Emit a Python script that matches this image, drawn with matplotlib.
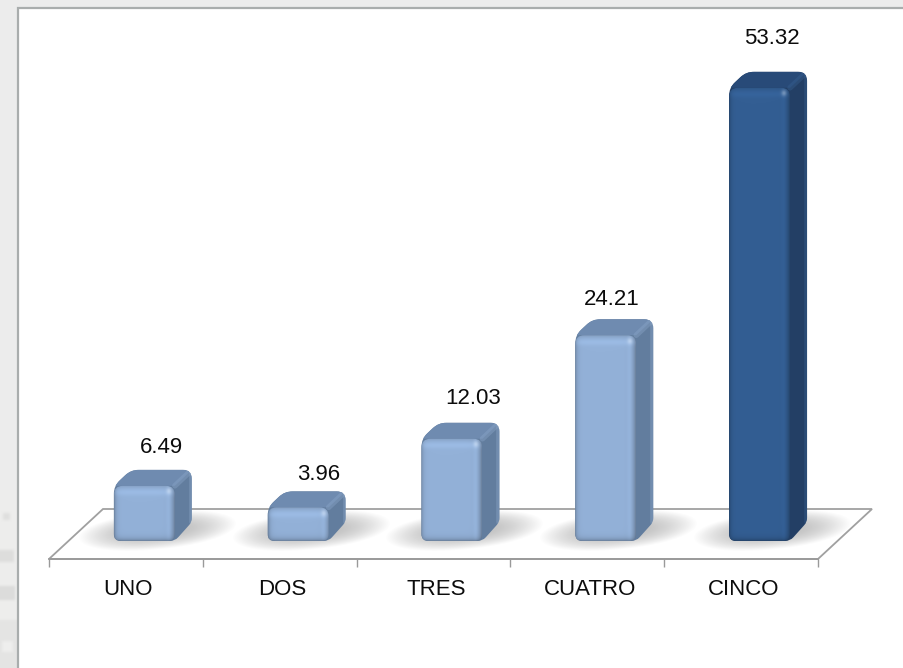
import numpy as np
import matplotlib
matplotlib.use("Agg")
import matplotlib.pyplot as plt
from matplotlib.path import Path
from matplotlib.patches import PathPatch, Polygon, Rectangle
from matplotlib.colors import to_rgb

categories = ["UNO", "DOS", "TRES", "CUATRO", "CINCO"]
values = [6.49, 3.96, 12.03, 24.21, 53.32]
highlight = [False, False, False, False, True]
label_nudge = [(17, 38), (21, 33), (21, 40), (6, 36), (12, 49)]  # px from bar top-centre

W, H = 904, 668
PX_X = 153.8        # px per category
PX_Y = 8.5          # px per value unit
X0_PX, Y0_PX = 49, 541   # where x=0 and y=0 sit
FLOOR_DROP = 18 / PX_Y   # floor front edge below bar base
DX, DY = 17 / PX_X, 16 / PX_Y
BAR_W = 61 / PX_X
BAR_SHIFT = 0.62

plt.rcParams['font.family'] = ['Liberation Sans', 'DejaVu Sans']
fig = plt.figure(figsize=(W / 100, H / 100), dpi=100, facecolor="#ececec")

# full-figure decoration layer
bg = fig.add_axes([0, 0, 1, 1], zorder=0)
bg.set_xlim(0, W); bg.set_ylim(H, 0); bg.axis("off")
strip = np.full((178, 17), 237.0)
for y0, y1, x0, x1, v in [(23, 30, 3, 10, 224), (60, 72, 0, 14, 222), (96, 110, 0, 15, 220),
                          (130, 178, 0, 17, 228), (151, 162, 2, 13, 238)]:
    strip[y0:y1, x0:x1] = v
kernel = np.array([1, 2, 3, 2, 1], float) / 9
strip = np.apply_along_axis(lambda r: np.convolve(r, kernel, mode="same"), 0, np.pad(strip, 4, mode="edge"))
strip = np.apply_along_axis(lambda r: np.convolve(r, kernel, mode="same"), 1, strip)[4:-4, 4:-4]
bg.imshow(np.dstack([strip, strip, strip - 1]).astype(np.uint8), extent=(0, 17, 668, 490),
          interpolation="bilinear", aspect="auto", zorder=1)
bg.set_xlim(0, W); bg.set_ylim(H, 0)
bg.add_patch(Rectangle((17, 7), W - 17, H - 7, fc="white", ec="none", zorder=2))
bg.plot([18, 18, W], [H, 7.5, 7.5], color="#a9adad", lw=1.6, zorder=3, solid_joinstyle="miter")

# data axes: x in categories, y in value units
floor_px = Y0_PX + FLOOR_DROP * PX_Y
ax = fig.add_axes([X0_PX / W, (H - floor_px) / H, 5 * PX_X / W, floor_px / H], zorder=1)
ax.patch.set_alpha(0)
ax.set_xlim(0, 5)
ax.set_ylim(-FLOOR_DROP, Y0_PX / PX_Y)
for s in ("top", "left", "right"):
    ax.spines[s].set_visible(False)
ax.spines["bottom"].set_color("#9a9a9a")
ax.spines["bottom"].set_linewidth(1.3)
ax.set_yticks([])
ax.set_xticks(range(6))
ax.set_xticklabels([])
ax.set_xticks(np.arange(5) + 0.515, minor=True)
ax.set_xticklabels(categories, minor=True, fontsize=16, color="#0c0c0c")
ax.tick_params(axis="x", which="major", length=6, width=1, color="#9a9a9a", direction="out")
ax.tick_params(axis="x", which="minor", length=0, pad=14.5)

# floor
fd_x, fd_y = 54 / PX_X, 50 / PX_Y
ax.add_patch(Polygon([(0, -FLOOR_DROP), (fd_x, -FLOOR_DROP + fd_y), (5 + fd_x, -FLOOR_DROP + fd_y), (5, -FLOOR_DROP)],
                     closed=True, fc="white", ec="#a0a0a0", lw=1.3, clip_on=False, zorder=1))


def rounded(verts, r_px):
    """Path through data-space vertices with corners rounded by r_px."""
    p = np.array([(x * PX_X, y * PX_Y) for x, y in verts], float)
    n = len(p)
    rs = r_px if np.iterable(r_px) else [r_px] * n
    codes, out = [], []
    for i in range(n):
        a, b, c = p[i - 1], p[i], p[(i + 1) % n]
        r = min(rs[i], np.linalg.norm(a - b) / 2, np.linalg.norm(c - b) / 2)
        s = b + (a - b) / np.linalg.norm(a - b) * r
        e = b + (c - b) / np.linalg.norm(c - b) * r
        codes += [Path.MOVETO if i == 0 else Path.LINETO, Path.CURVE3, Path.CURVE3]
        out += [s, b, e]
    out.append(out[0]); codes.append(Path.CLOSEPOLY)
    out = np.array(out) / [PX_X, PX_Y]
    return Path(out, codes)


def front_image(base, w_px, h_px):
    """Bevelled shading for the front face."""
    h_px, w_px = max(int(h_px), 4), max(int(w_px), 4)
    yy, xx = np.mgrid[0:h_px, 0:w_px]
    base = np.array(to_rgb(base))
    dl, dr = xx + 0.5, w_px - xx - 0.5
    dt, db = yy + 0.5, h_px - yy - 0.5
    shade = np.ones((h_px, w_px))
    shade *= 1 - 0.28 * np.exp(-dl / 2.0)
    shade *= 1 - 0.30 * np.exp(-db / 2.5)
    shade *= 1 + 0.05 * np.exp(-((dr - 6) / 2.5) ** 2)
    shade *= 1 - 0.30 * np.exp(-dr / 3.0)
    shade *= 1 + 0.06 * np.exp(-((dt - 7) / 3.5) ** 2)
    shade *= 1 - 0.14 * np.exp(-dt / 2.0)
    img = base[None, None, :] * shade[..., None]
    g = np.exp(-(((dr - 6) / 2.6) ** 2 + ((dt - 6) / 3.0) ** 2))[..., None]
    img = img + (np.array([1, 1, 1]) - img) * g * 0.30
    return np.clip(img, 0, 1)


palette = {False: dict(front="#93b1d8", top="#6f8bb0", side="#627d9e", ridge="#8ea9cb"),
           True: dict(front="#335e93", top="#284a78", side="#233f65", ridge="#3a6394")}

for i, (v, hl) in enumerate(zip(values, highlight)):
    c = palette[hl]
    xl = i + BAR_SHIFT - BAR_W / 2
    xr = i + BAR_SHIFT + BAR_W / 2

    # soft, skewed shadow on the floor
    sx0, sx1 = xl - 36 / PX_X, xr + 62 / PX_X
    sy0, sy1 = -10 / PX_Y, 38 / PX_Y
    gx = np.linspace(-1, 1, 240); gy = np.linspace(-1, 1, 90)
    GX, GY = np.meshgrid(gx, gy)
    GYS = (GY + 0.18 - 0.30 * (GX + 0.1)) / 0.80
    alpha = np.clip(1 - (np.abs(GX) ** 2.2 + np.abs(GYS) ** 2.0), 0, 1) ** 1.1 * 0.50
    rgba = np.zeros((90, 240, 4)); rgba[..., :3] = 0.48; rgba[..., 3] = alpha
    ax.imshow(rgba, extent=(sx0, sx1, sy0, sy1), origin="lower", aspect="auto", zorder=2,
              interpolation="bilinear", clip_on=False)

    # whole silhouette, with top face and ridges clipped to it
    sil = rounded([(xl, 0), (xl, v), (xl + DX, v + DY), (xr + DX, v + DY), (xr + DX, DY + 3 / PX_Y), (xr, 0)],
                  [7, 8, 8, 9, 4, 5])
    body = PathPatch(sil, fc=c["side"], ec="none", zorder=3)
    ax.add_patch(body)
    top = Polygon([(xl, v), (xl + DX, v + DY), (xr + DX, v + DY), (xr, v)], closed=True,
                  fc=c["top"], ec="none", zorder=3.1)
    ax.add_patch(top)
    top.set_clip_path(body)
    ridge_lines = [([xr, xr + DX], [v, v + DY]), ([xr + DX, xr + DX], [v + DY, DY + 3 / PX_Y])]
    for rx, ry in ridge_lines:
        ln, = ax.plot(rx, ry, color=c["ridge"], lw=4, alpha=0.38, zorder=3.2, solid_capstyle="round")
        ln.set_clip_path(body)

    # front face with bevel shading, clipped to a rounded rectangle
    fp = rounded([(xl, 0), (xl, v), (xr, v), (xr, 0)], [7, 9, 9, 7])
    im = ax.imshow(front_image(c["front"], BAR_W * PX_X, v * PX_Y), extent=(xl, xr, 0, v),
                   origin="upper", aspect="auto", zorder=4, interpolation="bilinear")
    clip = PathPatch(fp, fc="none", ec="none", zorder=4, transform=ax.transData)
    ax.add_patch(clip)
    im.set_clip_path(clip)

    dxp, dyp = label_nudge[i]
    ax.annotate(f"{v:.2f}", (i + BAR_SHIFT, v), xytext=(dxp * 0.72, dyp * 0.72), textcoords="offset points",
                ha="center", va="center", fontsize=16, color="#0c0c0c", annotation_clip=False, zorder=6)

ax.set_xlim(0, 5)
ax.set_ylim(-FLOOR_DROP, Y0_PX / PX_Y)
fig.savefig("out.png", dpi=100, facecolor=fig.get_facecolor())
